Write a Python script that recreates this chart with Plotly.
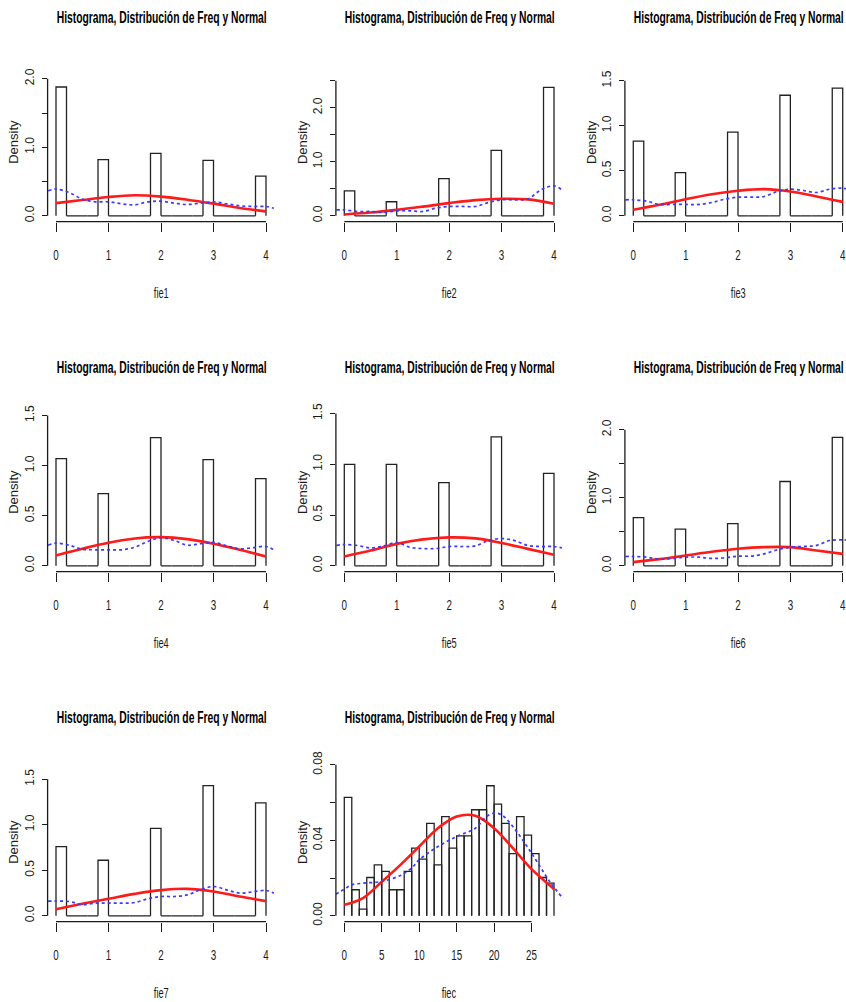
import plotly.graph_objects as go

W, H = 846, 1002
TITLE = "Histograma, Distribución de Freq y Normal"
NAMES = ["fie1", "fie2", "fie3", "fie4", "fie5", "fie6", "fie7", "fiec"]

# ---------------- data ----------------
FIE_VALUES = [0, 1, 2, 3, 4]
FIE_BREAKS = [0.0, 0.2, 0.4, 0.6, 0.8, 1.0, 1.2, 1.4, 1.6, 1.8, 2.0,
              2.2, 2.4, 2.6, 2.8, 3.0, 3.2, 3.4, 3.6, 3.8, 4.0]
# histogram density of the bin holding each value 0..4
FIE1_DENS = [1.88, 0.82, 0.91, 0.81, 0.58]
FIE2_DENS = [0.46, 0.26, 0.69, 1.21, 2.38]
FIE3_DENS = [0.83, 0.48, 0.93, 1.34, 1.42]
FIE4_DENS = [1.07, 0.72, 1.28, 1.06, 0.87]
FIE5_DENS = [1.00, 1.00, 0.82, 1.27, 0.91]
FIE6_DENS = [0.71, 0.54, 0.62, 1.24, 1.89]
FIE7_DENS = [0.76, 0.61, 0.96, 1.43, 1.24]

FIEC_BREAKS = list(range(0, 29))
FIEC_DENS = [0.0627, 0.0138, 0.0035, 0.0203, 0.0270, 0.0235, 0.0138, 0.0138,
             0.0235, 0.0359, 0.0300, 0.0490, 0.0270, 0.0526, 0.0359, 0.0424,
             0.0424, 0.0562, 0.0562, 0.0689, 0.0592, 0.0490, 0.0329, 0.0526,
             0.0427, 0.0329, 0.0203, 0.0173]

# normal curve (red), read at these x positions
NORM_X_FIE = [0, 0.5, 1, 1.5, 2, 2.5, 3, 3.5, 4]
FIE1_NORM = [0.185, 0.23, 0.275, 0.30, 0.28, 0.235, 0.178, 0.115, 0.065]
FIE2_NORM = [0.025, 0.06, 0.11, 0.17, 0.235, 0.29, 0.315, 0.305, 0.225]
FIE3_NORM = [0.067, 0.122, 0.185, 0.24, 0.278, 0.296, 0.27, 0.215, 0.155]
FIE4_NORM = [0.103, 0.17, 0.23, 0.273, 0.286, 0.266, 0.22, 0.16, 0.093]
FIE5_NORM = [0.092, 0.15, 0.216, 0.26, 0.28, 0.27, 0.225, 0.167, 0.108]
FIE6_NORM = [0.054, 0.098, 0.152, 0.206, 0.25, 0.275, 0.275, 0.225, 0.176]
FIE7_NORM = [0.073, 0.132, 0.187, 0.241, 0.282, 0.296, 0.267, 0.212, 0.161]
NORM_X_FIEC = [0, 2.5, 5, 7.5, 10, 12.5, 15, 17.5, 20, 22.5, 25, 27.5, 28]
FIEC_NORM = [0.0058, 0.0094, 0.018, 0.027, 0.0367, 0.0464, 0.0526, 0.053,
             0.0464, 0.0359, 0.0247, 0.0159, 0.0141]

# kernel density (blue dotted), read at these x positions
KDE_X_FIE = [-0.15, 0, 0.25, 0.5, 0.75, 1, 1.25, 1.5, 1.75, 2, 2.25, 2.5,
             2.75, 3, 3.25, 3.5, 3.75, 4, 4.15]
FIE1_KDE = [0.365, 0.39, 0.34, 0.243, 0.204, 0.204, 0.175, 0.16, 0.204, 0.214,
            0.185, 0.165, 0.185, 0.204, 0.175, 0.146, 0.136, 0.136, 0.11]
FIE2_KDE = [0.11, 0.11, 0.08, 0.08, 0.062, 0.093, 0.093, 0.08, 0.142, 0.173,
            0.173, 0.173, 0.247, 0.296, 0.296, 0.31, 0.48, 0.555, 0.48]
FIE3_KDE = [0.178, 0.178, 0.163, 0.126, 0.126, 0.126, 0.126, 0.148, 0.185, 0.207,
            0.207, 0.215, 0.27, 0.296, 0.281, 0.259, 0.296, 0.307, 0.29]
FIE4_KDE = [0.206, 0.226, 0.206, 0.166, 0.16, 0.16, 0.16, 0.186, 0.243, 0.28,
            0.253, 0.206, 0.22, 0.233, 0.20, 0.17, 0.18, 0.193, 0.16]
FIE5_KDE = [0.20, 0.21, 0.20, 0.176, 0.196, 0.229, 0.183, 0.17, 0.17, 0.19,
            0.19, 0.196, 0.248, 0.268, 0.248, 0.20, 0.19, 0.19, 0.176]
FIE6_KDE = [0.137, 0.137, 0.127, 0.098, 0.108, 0.127, 0.127, 0.108, 0.118, 0.142,
            0.142, 0.176, 0.235, 0.275, 0.284, 0.30, 0.372, 0.382, 0.38]
FIE7_KDE = [0.161, 0.161, 0.157, 0.124, 0.139, 0.139, 0.139, 0.146, 0.187, 0.212,
            0.212, 0.23, 0.285, 0.322, 0.285, 0.249, 0.263, 0.278, 0.249]
KDE_X_FIEC = [-1.12, 0, 1, 2.5, 5, 7.5, 9, 10, 12.5, 15, 17.5, 19, 20, 21,
              22.5, 25, 27.5, 29]
FIEC_KDE = [0.0115, 0.0141, 0.0164, 0.0173, 0.0182, 0.0214, 0.0253, 0.0297,
            0.0367, 0.042, 0.0464, 0.0526, 0.0544, 0.0535, 0.0473, 0.0332,
            0.0177, 0.0102]

# axis ticks
FIE_XTICKS = [0, 1, 2, 3, 4]
FIEC_XTICKS = [0, 5, 10, 15, 20, 25]
YT_A = [0, 0.5, 1.0, 1.5, 2.0]
YL_A = ["0.0", "", "1.0", "", "2.0"]
YT_B = [0, 0.5, 1.0, 1.5, 2.0, 2.5]
YL_B = ["0.0", "", "1.0", "", "2.0", ""]
YT_C = [0, 0.5, 1.0, 1.5]
YL_C = ["0.0", "0.5", "1.0", "1.5"]
YT_D = [0, 0.02, 0.04, 0.06, 0.08]
YL_D = ["0.00", "", "0.04", "", "0.08"]
Y_UPPER = [2.149, 2.726, 1.636, 1.469, 1.45, 2.165, 1.616, 0.078]

# ---------------- layout (pixels) ----------------
COL_L = [47.6, 335.9, 624.9]
COL_R = [274.4, 562.4, 851.1]
ROW_T = [62.7, 412.7, 762.7]
ROW_B = [221.7, 571.7, 921.7]

SANS = "Liberation Sans, Arial, Helvetica, sans-serif"
INK = "#1a1a1a"


def hist_outline(breaks, dens):
    xs, ys = [], []
    for i, d in enumerate(dens):
        l, r = breaks[i], breaks[i + 1]
        xs += [l, l, r, r, None]
        ys += [0, d, d, 0, None]
    return xs, ys


def fie_bins(dens):
    full = [0.0] * (len(FIE_BREAKS) - 1)
    for v, d in zip(FIE_VALUES, dens):
        idx = 0 if v == 0 else int(round(v / 0.2)) - 1
        full[idx] = d
    return full


panels = [
    (FIE_BREAKS, fie_bins(FIE1_DENS), NORM_X_FIE, FIE1_NORM, KDE_X_FIE, FIE1_KDE, FIE_XTICKS, YT_A, YL_A),
    (FIE_BREAKS, fie_bins(FIE2_DENS), NORM_X_FIE, FIE2_NORM, KDE_X_FIE, FIE2_KDE, FIE_XTICKS, YT_B, YL_B),
    (FIE_BREAKS, fie_bins(FIE3_DENS), NORM_X_FIE, FIE3_NORM, KDE_X_FIE, FIE3_KDE, FIE_XTICKS, YT_C, YL_C),
    (FIE_BREAKS, fie_bins(FIE4_DENS), NORM_X_FIE, FIE4_NORM, KDE_X_FIE, FIE4_KDE, FIE_XTICKS, YT_C, YL_C),
    (FIE_BREAKS, fie_bins(FIE5_DENS), NORM_X_FIE, FIE5_NORM, KDE_X_FIE, FIE5_KDE, FIE_XTICKS, YT_C, YL_C),
    (FIE_BREAKS, fie_bins(FIE6_DENS), NORM_X_FIE, FIE6_NORM, KDE_X_FIE, FIE6_KDE, FIE_XTICKS, YT_A, YL_A),
    (FIE_BREAKS, fie_bins(FIE7_DENS), NORM_X_FIE, FIE7_NORM, KDE_X_FIE, FIE7_KDE, FIE_XTICKS, YT_C, YL_C),
    (FIEC_BREAKS, FIEC_DENS, NORM_X_FIEC, FIEC_NORM, KDE_X_FIEC, FIEC_KDE, FIEC_XTICKS, YT_D, YL_D),
]

fig = go.Figure()
layout = dict(width=W, height=H, margin=dict(l=0, r=0, t=0, b=0, pad=0),
              paper_bgcolor="white", plot_bgcolor="white", showlegend=False)
shapes, annotations = [], []

for i, (brk, dens, nx, ny, kx, ky, xt, yt, yl) in enumerate(panels):
    n = i + 1
    sfx = "" if n == 1 else str(n)
    xa, ya = "x" + sfx, "y" + sfx
    r, c = divmod(i, 3)
    left, right = COL_L[c], COL_R[c]
    top, bot = ROW_T[r], ROW_B[r]

    x_lo, x_hi = brk[0], brk[-1]
    ext = 0.04 * (x_hi - x_lo)
    r0, r1 = x_lo - ext, x_hi + ext
    dom_r = right
    if right > W:  # plot region cut by the picture's right edge
        scale = (right - left) / (r1 - r0)
        r1 = r0 + (W - left) / scale
        dom_r = W
    yu = Y_UPPER[i]

    hx, hy = hist_outline(brk, dens)
    fig.add_trace(go.Scatter(x=hx, y=hy, mode="lines", xaxis=xa, yaxis=ya,
                             line=dict(color="#222222", width=1.3), hoverinfo="skip"))
    fig.add_trace(go.Scatter(x=nx, y=ny, mode="lines", xaxis=xa, yaxis=ya,
                             line=dict(color="#ff1a1a", width=2.6, shape="spline"),
                             name="Normal"))
    fig.add_trace(go.Scatter(x=kx, y=ky, mode="lines", xaxis=xa, yaxis=ya,
                             line=dict(color="#3a3aff", width=1.7, dash="dot", shape="spline"),
                             name="Densidad"))

    layout["xaxis" + sfx] = dict(
        domain=[left / W, dom_r / W], range=[r0, r1], anchor=ya, automargin=False,
        showgrid=False, zeroline=False, showline=False,
        tickmode="array", tickvals=xt, ticktext=[str(v) for v in xt],
        ticks="outside", ticklen=9, tickwidth=1.2, tickcolor=INK,
        ticklabelstandoff=11, ticklabeloverflow="allow",
        tickfont=dict(family=SANS, size=14, color=INK))
    layout["yaxis" + sfx] = dict(
        domain=[1 - bot / H, 1 - top / H], range=[-0.04 * yu, 1.04 * yu], anchor=xa,
        automargin=False,
        showgrid=False, zeroline=False, showline=False,
        tickmode="array", tickvals=yt, ticktext=yl, tickangle=-90,
        ticks="outside", ticklen=5, tickwidth=1.2, tickcolor=INK,
        ticklabelstandoff=3,
        tickfont=dict(family=SANS, size=12, color=INK))

    # R-style axis lines spanning first..last tick
    shapes.append(dict(type="line", xref=xa, yref=ya + " domain",
                       x0=xt[0], x1=xt[-1], y0=0, y1=0,
                       line=dict(color=INK, width=1.3)))
    shapes.append(dict(type="line", xref=xa + " domain", yref=ya,
                       x0=0, x1=0, y0=yt[0], y1=yt[-1],
                       line=dict(color=INK, width=1.3)))

    cx = (left + right) / 2
    annotations.append(dict(text="<b>" + TITLE + "</b>", xref="paper", yref="paper",
                            x=cx / W, y=1 - (17 + 350 * r) / H, showarrow=False,
                            xanchor="center", yanchor="middle",
                            font=dict(family=SANS, size=16, color="black")))
    annotations.append(dict(text=NAMES[i], xref="paper", yref="paper",
                            x=cx / W, y=1 - (293.3 + 350 * r) / H, showarrow=False,
                            xanchor="center", yanchor="middle",
                            font=dict(family=SANS, size=14, color=INK)))
    annotations.append(dict(text="Density", xref="paper", yref="paper",
                            x=(left - 34) / W, y=1 - ((top + bot) / 2) / H,
                            showarrow=False, textangle=-90,
                            xanchor="center", yanchor="middle",
                            font=dict(family=SANS, size=13, color=INK)))

layout["shapes"] = shapes
layout["annotations"] = annotations
fig.update_layout(**layout)

# The reference text is horizontally condensed; squeeze the horizontal labels
# (still real SVG text) with textLength.
POST = """
(function(){
  document.documentElement.style.margin='0';
  document.body.style.margin='0';
  var gd = document.getElementById('{plot_id}');
  function squeeze(){
    gd.querySelectorAll('text').forEach(function(t){
      if (t.getAttribute('data-sq')) return;
      var s = (t.textContent || '').trim();
      var p = t.parentNode;
      var pc = (p && p.getAttribute) ? (p.getAttribute('class') || '') : '';
      var tc = t.getAttribute('class') || '';
      var target = null;
      if (s.indexOf('Histograma') === 0) target = 210;
      else if (/^fie/.test(s) && tc.indexOf('annotation') >= 0) target = t.getComputedTextLength() * 0.66;
      else if (/(^|\\s)x\\d*tick(\\s|$)/.test(pc) || /(^|\\s)x\\d*tick(\\s|$)/.test(tc)) target = t.getComputedTextLength() * 0.7;
      if (target) {
        t.setAttribute('textLength', target);
        t.setAttribute('lengthAdjust', 'spacingAndGlyphs');
        t.setAttribute('data-sq', '1');
      }
    });
  }
  squeeze();
  if (gd.on) gd.on('plotly_afterplot', squeeze);
  setTimeout(squeeze, 30);
})();
"""
fig.write_html("out.html", post_script=POST)
